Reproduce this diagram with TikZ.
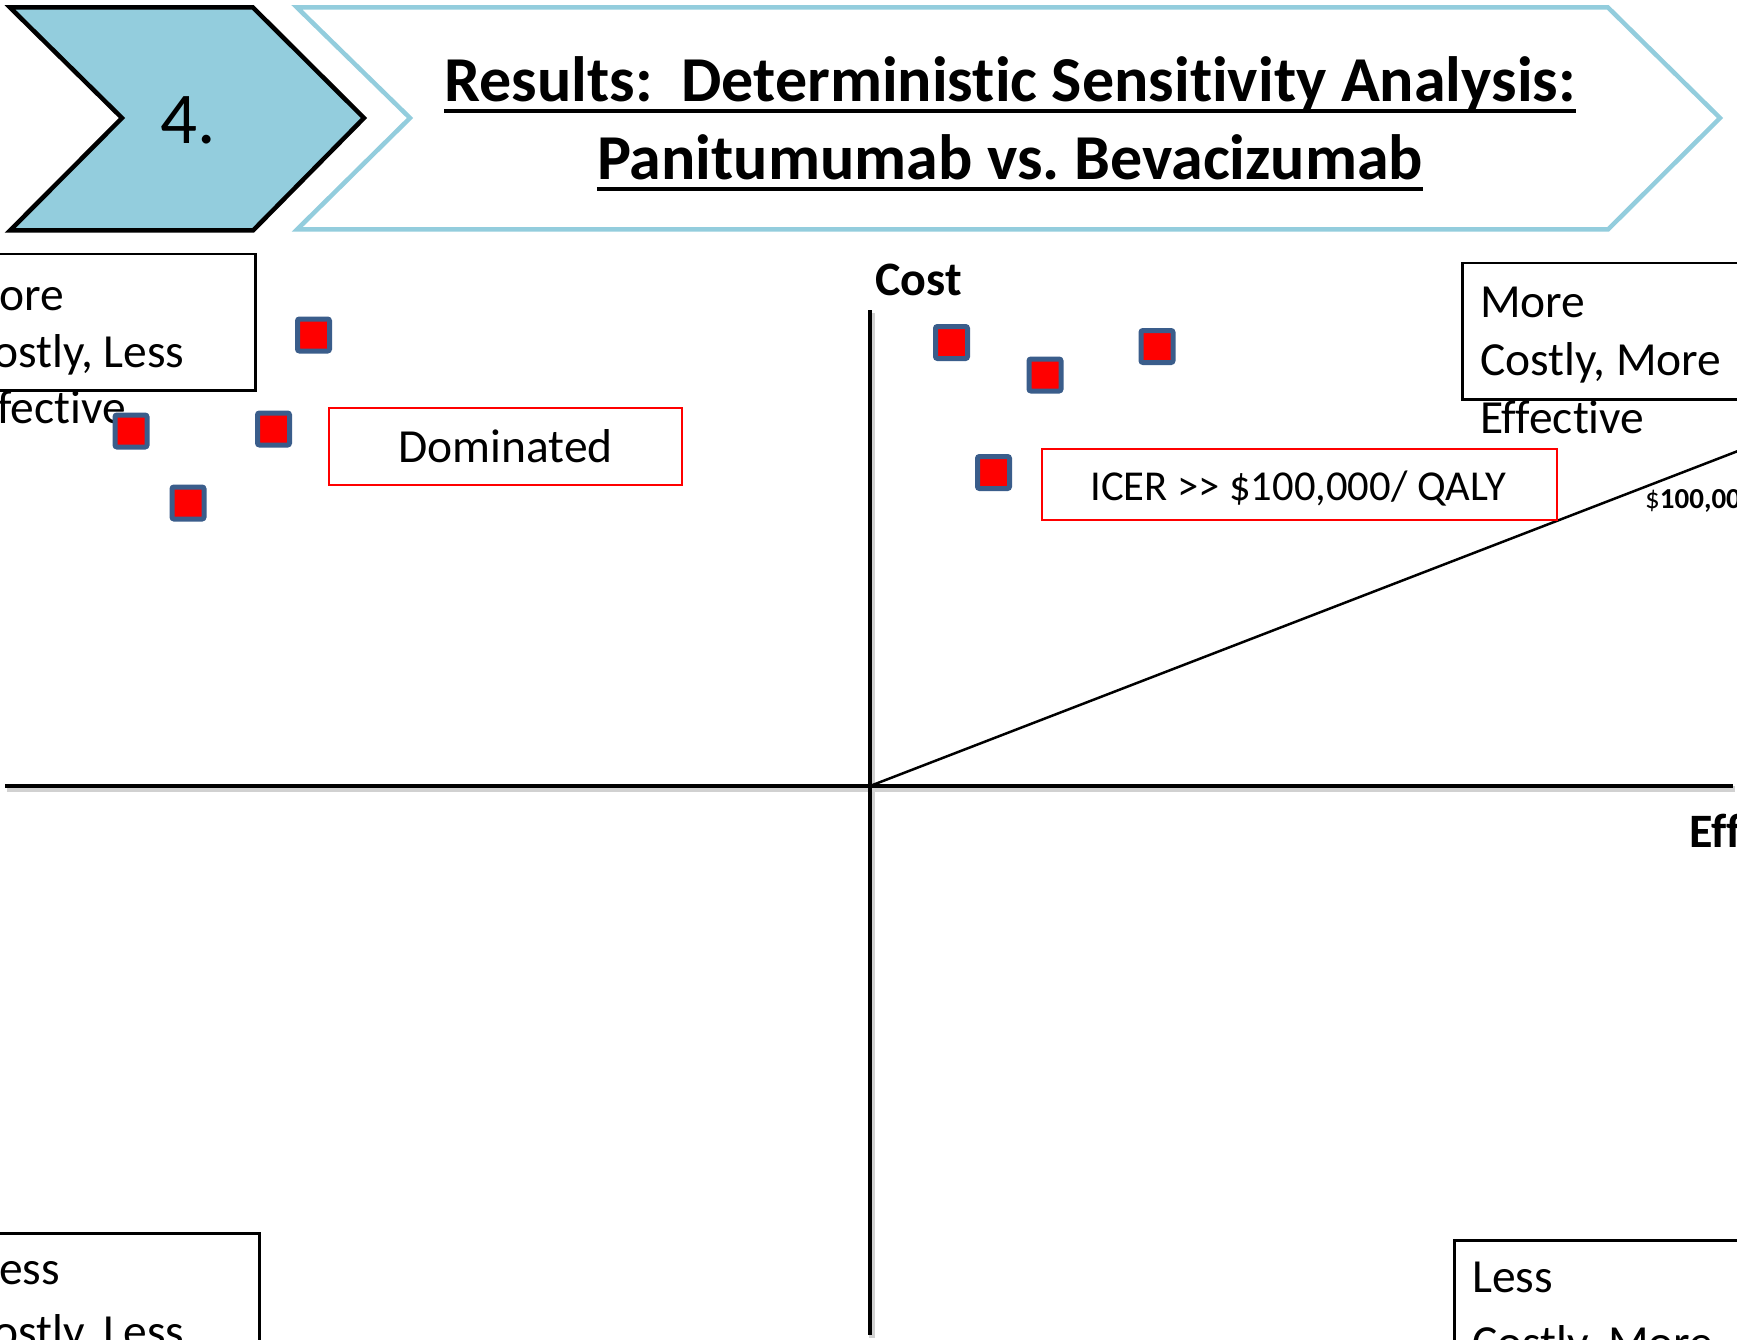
\documentclass[tikz,border=0pt]{standalone}
\usepackage{fontspec}
\setmainfont{Carlito}[RawFeature=-liga]
\frenchspacing
\definecolor{chevfill}{HTML}{93CDDD}
\definecolor{sqborder}{HTML}{3A5D8B}
\definecolor{boxred}{HTML}{FF0000}
\tikzset{
  chevdark/.style={draw=black, line width=4.5pt, fill=chevfill, line join=miter},
  chevlight/.style={draw=chevfill, line width=4.5pt, line join=miter},
  ttl/.style={font=\fontsize{64}{77}\selectfont\bfseries, anchor=base, inner sep=0pt},
  axis/.style={line width=4.5pt},
  axshadow/.style={line width=6pt, draw=black!18},
  qbox/.style={draw=black, line width=2.5pt, anchor=north west, inner sep=0pt},
  qtext/.style={font=\fontsize{47.5}{57}\selectfont, anchor=base west, inner sep=0pt},
  axlabel/.style={font=\fontsize{48}{57}\selectfont\bfseries, anchor=base west, inner sep=0pt},
  redbox/.style={draw=boxred, line width=2.2pt, inner sep=0pt},
  boxtext/.style={anchor=base, inner sep=0pt},
  datapt/.style={draw=sqborder, fill=red, line width=5pt, minimum size=32pt,
                 inner sep=0pt, rounded corners=2pt},
}
\begin{document}
\begin{tikzpicture}[x=1pt, y=-1pt]
\useasboundingbox (0,0) rectangle (1737,1340);
\fill[white] (0,0) rectangle (1737,1340);

% section chevron and title banner
\draw[chevdark] (10,7.5) -- (253,7.5) -- (364,118) -- (253,230.5) -- (10,230.5) -- (122,118) -- cycle;
\node[font=\fontsize{73}{88}\selectfont, anchor=base, inner sep=0pt] (num) at (188,144) {4.};
\draw[chevlight] (297,7.5) -- (1608,7.5) -- (1720,118) -- (1608,229.5) -- (297,229.5) -- (410,118) -- cycle;

\node[ttl] (t1) at (1010,102) {Results:~ Deterministic Sensitivity Analysis:};
\node[ttl] (t2) at (1010,180) {Panitumumab vs. Bevacizumab};
\draw[line width=4pt] ([yshift=-9pt]t1.base west) -- ([yshift=-9pt]t1.base east);
\draw[line width=4pt] ([yshift=-9pt]t2.base west) -- ([yshift=-9pt]t2.base east);

% cost-effectiveness plane
\coordinate (O) at (870,786);
\coordinate (ytop) at (870,310);
\coordinate (ybot) at (870,1335);
\coordinate (xleft) at (5,786);
\coordinate (xright) at (1733,786);
\coordinate (wtp) at (1760,442.5);

\draw[axshadow] ([xshift=2pt,yshift=-3pt]xleft) -- ([xshift=2pt,yshift=-3pt]xright);
\draw[axshadow] ([xshift=2pt,yshift=-3pt]ytop) -- ([xshift=2pt,yshift=-3pt]ybot);
\draw[axis] (xleft) -- (xright);
\draw[axis] (ytop) -- (ybot);
\draw[line width=2.5pt] (O) -- (wtp);

\node[axlabel] (cost) at (875,295) {Cost};
\node[axlabel] (eff) at (1689,847) {Eff};
\node[font=\fontsize{29}{35}\selectfont, anchor=base west, inner sep=0pt] (wtplabel) at (1645,508) {\$\textbf{100,00}};

% quadrant captions
\node[qbox, minimum width=274pt, minimum height=136pt] (qtl) at (-20,253) {};
\node[qtext] (qtl1) at (-1,310) {ore};
\node[qtext] (qtl2) at (-7,367) {ostly, Less};
\node[qtext] (qtl3) at (-3,423) {fective};

\node[qbox, minimum width=300pt, minimum height=136pt] (qtr) at (1461,262) {};
\node[qtext] (qtr1) at (1480,317) {More};
\node[qtext] (qtr2) at (1480,375) {Costly, More};
\node[qtext] (qtr3) at (1480,433) {Effective};

\node[qbox, minimum width=278pt, minimum height=140pt] (qbl) at (-20,1232) {};
\node[qtext] (qbl1) at (-1,1284) {ess};
\node[qtext] (qbl2) at (-7,1347) {ostly, Less};

\node[qbox, minimum width=310pt, minimum height=140pt] (qbr) at (1453,1239) {};
\node[qtext] (qbr1) at (1472,1292) {Less};
\node[qtext] (qbr2) at (1472,1358) {Costly, More};

% region labels
\node[redbox, minimum width=353pt, minimum height=77pt] (dombox) at (505.5,446.5) {};
\node[boxtext, font=\fontsize{47.5}{57}\selectfont] (domtext) at (505.5,462) {Dominated};
\node[redbox, minimum width=515pt, minimum height=71pt] (icerbox) at (1299.5,484.5) {};
\node[boxtext, font=\fontsize{42.6}{51}\selectfont] (icertext) at (1298,500) {ICER >{}> \$100,000/ QALY};

% sensitivity results
\node[datapt] (p1) at (313.5,335) {};
\node[datapt] (p2) at (131,431) {};
\node[datapt] (p3) at (273.5,429) {};
\node[datapt] (p4) at (188,503) {};
\node[datapt] (p5) at (951.5,342.5) {};
\node[datapt] (p6) at (1045,375) {};
\node[datapt] (p7) at (1157,346.5) {};
\node[datapt] (p8) at (993.5,472.5) {};
\end{tikzpicture}
\end{document}
